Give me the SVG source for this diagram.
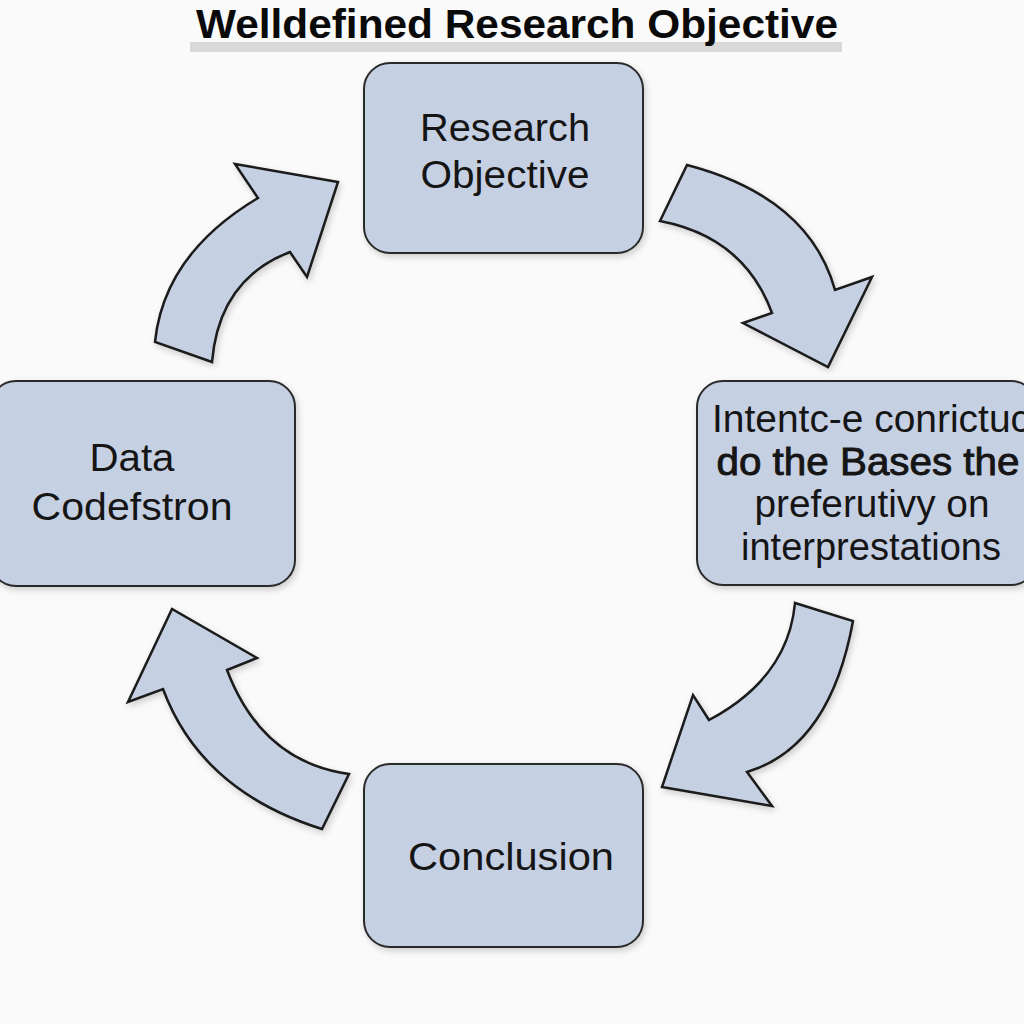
<svg xmlns="http://www.w3.org/2000/svg" width="1024" height="1024" viewBox="0 0 1024 1024">
<defs>
<style>
.box{fill:#c6d0e3;stroke:#2a2a2a;stroke-width:2}
.arr{fill:#c6d0e3;stroke:#1a1a1a;stroke-width:2.5;stroke-linejoin:miter}
.t{font-family:"Liberation Sans",Arial,sans-serif;font-size:38px;fill:#151515;text-anchor:middle}
</style>
<filter id="sh" x="-10%" y="-10%" width="130%" height="130%"><feDropShadow dx="2" dy="3" stdDeviation="3" flood-color="#000" flood-opacity="0.18"/></filter>
</defs>
<rect width="1024" height="1024" fill="#fafafa"/>
<g id="title">
<rect x="190" y="42" width="652" height="10" fill="#d9d9d9"/>
<text x="517" y="38" class="t" style="font-size:40px;font-weight:bold;fill:#0a0a0a" textLength="642" lengthAdjust="spacingAndGlyphs">Welldefined Research Objective</text>
</g>
<g id="connectors">
<path class="arr" filter="url(#sh)" d="M155,342 Q164,254 258,198 L235,164 L338,182 L307,277 L290,252 Q219,279 212,362 Z"/>
<path class="arr" filter="url(#sh)" d="M687,165 Q809,197 835,290 L872,277 L828,367 L743,323 L772,313 Q744,237 660,221 Z"/>
<path class="arr" filter="url(#sh)" d="M853,621 Q830,747 747,772 L772,806 L662,787 L693,695 L709,720 Q788,678 795,603 Z"/>
<path class="arr" filter="url(#sh)" d="M322,829 Q201,791 163,689 L128,702 L172,609 L257,658 L227,670 Q262,762 349,774 Z"/>
</g>
<g id="node-research-objective">
<rect class="box" filter="url(#sh)" x="364" y="63" width="279" height="190" rx="26"/>
<text class="t" x="505" y="141" textLength="170" lengthAdjust="spacingAndGlyphs">Research</text>
<text class="t" x="505" y="188" textLength="169" lengthAdjust="spacingAndGlyphs">Objective</text>
</g>
<g id="node-interpretation">
<rect class="box" filter="url(#sh)" x="697" y="381" width="340" height="204" rx="26"/>
<text class="t" x="871" y="432" textLength="318" lengthAdjust="spacingAndGlyphs">Intentc-e conrictuc</text>
<text class="t" x="868" y="475" style="stroke:#151515;stroke-width:0.9" textLength="303" lengthAdjust="spacingAndGlyphs">do the Bases the</text>
<text class="t" x="872" y="517" textLength="235" lengthAdjust="spacingAndGlyphs">preferutivy on</text>
<text class="t" x="871" y="560" textLength="260" lengthAdjust="spacingAndGlyphs">interprestations</text>
</g>
<g id="node-data">
<rect class="box" filter="url(#sh)" x="-10" y="381" width="305" height="205" rx="26"/>
<text class="t" x="132" y="471" textLength="85" lengthAdjust="spacingAndGlyphs">Data</text>
<text class="t" x="132" y="520" textLength="201" lengthAdjust="spacingAndGlyphs">Codefstron</text>
</g>
<g id="node-conclusion">
<rect class="box" filter="url(#sh)" x="364" y="764" width="279" height="183" rx="26"/>
<text class="t" x="511" y="870" textLength="206" lengthAdjust="spacingAndGlyphs">Conclusion</text>
</g>
</svg>
